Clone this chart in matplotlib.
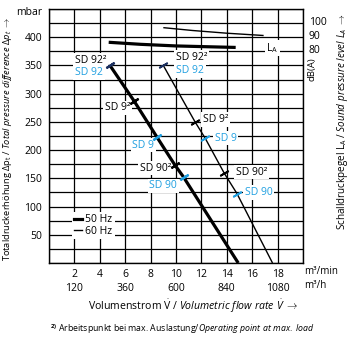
import matplotlib.pyplot as plt
from matplotlib.lines import Line2D

plt.rcParams['font.family'] = ['Open Sans', 'DejaVu Sans']
plt.rcParams['mathtext.fontset'] = 'custom'
plt.rcParams['mathtext.rm'] = 'Open Sans'
plt.rcParams['mathtext.it'] = 'Open Sans:italic'
plt.rcParams['mathtext.bf'] = 'Open Sans:bold'

# Achsen
x_ticks = [0, 2, 4, 6, 8, 10, 12, 14, 16, 18, 20]
x_labels_min = ['', '2', '4', '6', '8', '10', '12', '14', '16', '18', '']
x_labels_h = ['', '120', '', '360', '', '600', '', '840', '', '1080', '']
y_ticks = list(range(0, 451, 25))
y_label_vals = [50, 100, 150, 200, 250, 300, 350, 400]
db_ticks = [80, 90, 100]

# Kennlinien (m3/min, mbar)
curve50_x = [4.8, 6.7, 8.5, 9.9, 10.6, 14.9]
curve50_p = [350, 287, 223, 174, 152, 0]
curve60_x = [9.0, 11.5, 12.3, 13.8, 14.8, 17.6]
curve60_p = [350, 250, 221, 159, 123, 0]

# Schalldruckpegel (m3/min, dB(A))
la50_x = [4.7, 7.2, 10.0, 12.5, 14.7]
la50_db = [84.6, 83.1, 81.9, 81.3, 80.8]
la60_x = [9.0, 11.3, 14.0, 16.9]
la60_db = [95.4, 93.3, 91.3, 89.6]

# Arbeitspunkte
pts_names = ['SD 92²', 'SD 9²', 'SD 9', 'SD 90²', 'SD 90']
pts_colors = ['#1c3060', 'black', '#1f9fe0', 'black', '#1f9fe0']
pts50_x = [4.8, 6.7, 8.5, 9.9, 10.6]
pts50_p = [350, 287, 223, 174, 152]
pts60_x = [9.0, 11.5, 12.3, 13.8, 14.8]
pts60_p = [350, 250, 221, 159, 123]

# Beschriftungen (Position der linken Textkante)
lab_names = ['SD 92²', 'SD 92', 'SD 9²', 'SD 9', 'SD 90²', 'SD 90']
lab_colors = ['black', '#1f9fe0', 'black', '#1f9fe0', 'black', '#1f9fe0']
lab50_x = [2.05, 2.05, 4.4, 6.55, 7.15, 7.9]
lab50_p = [359, 337, 275, 209, 168, 137]
lab60_x = [10.0, 10.0, 12.1, 13.05, 14.7, 15.4]
lab60_p = [364, 341, 254, 221, 161, 125]

W, H = 350, 342
fig = plt.figure(figsize=(W / 100, H / 100), dpi=100)
ax = fig.add_axes([49 / W, 79 / H, 254 / W, 254 / H])

ax.set_xlim(0, 20)
ax.set_ylim(0, 450)
ax.set_xticks(x_ticks)
ax.set_xticklabels([a + '\n' + b for a, b in zip(x_labels_min, x_labels_h)],
                   linespacing=1.45)
ax.set_yticks(y_ticks)
ax.set_yticklabels([str(v) if v in y_label_vals else '' for v in y_ticks])
ax.tick_params(length=0, labelsize=7.5, pad=5)
ax.tick_params(axis='x', pad=4)
ax.grid(True, color='black', lw=0.9)
ax.set_axisbelow(True)
for s in ax.spines.values():
    s.set_linewidth(1.0)

# dB(A)-Achse rechts
ax2 = ax.twinx()
ax2.set_ylim(80 - 380 / 2.4, 80 + 70 / 2.4)
ax2.set_yticks(db_ticks)
ax2.tick_params(length=0, labelsize=7.5, pad=4)
for s in ax2.spines.values():
    s.set_visible(False)

ax.plot(curve50_x, curve50_p, color='black', lw=2.3, solid_capstyle='butt', zorder=3)
ax.plot(curve60_x, curve60_p, color='black', lw=1.0, solid_capstyle='butt', zorder=3)
ax2.plot(la50_x, la50_db, color='black', lw=2.3, solid_capstyle='butt')
ax2.plot(la60_x, la60_db, color='black', lw=1.0, solid_capstyle='butt')
ax2.text(17.6, 80.5, r'$\mathregular{L_A}$', fontsize=7.5, ha='center', va='center',
         bbox=dict(facecolor='white', edgecolor='none', pad=1))

for x, p, c in zip(pts50_x, pts50_p, pts_colors):
    ax.plot(x, p, marker=(2, 2, -57), ms=7, mew=1.6, color=c, zorder=4)
for x, p, c in zip(pts60_x, pts60_p, pts_colors):
    ax.plot(x, p, marker=(2, 2, -60), ms=7, mew=1.3, color=c, zorder=4)

for xs, ps in [(lab50_x, lab50_p), (lab60_x, lab60_p)]:
    for name, c, x, p in zip(lab_names, lab_colors, xs, ps):
        ax.text(x, p, name, color=c, fontsize=7.5, ha='left', va='center', zorder=2.5,
                bbox=dict(facecolor='white', edgecolor='none', pad=1.2))

leg = ax.legend(handles=[Line2D([], [], color='black', lw=2.3, label='50 Hz'),
                         Line2D([], [], color='black', lw=1.0, label='60 Hz')],
                loc='upper left', bbox_to_anchor=(0.09, 0.2), fontsize=7.5,
                handlelength=0.8, handletextpad=0.3, borderpad=0.2, labelspacing=0.05,
                borderaxespad=0, fancybox=False, framealpha=1, edgecolor='none')

ax.text(-0.028, 0.988, 'mbar', transform=ax.transAxes, fontsize=7.5, ha='right', va='center')
ax.text(1.005, -0.035, 'm³/min', transform=ax.transAxes, fontsize=7, ha='left', va='center')
ax.text(1.005, -0.09, 'm³/h', transform=ax.transAxes, fontsize=7, ha='left', va='center')
fig.text(312 / W, 1 - 69 / H, 'dB(A)', rotation=90, fontsize=6.8, ha='center', va='center')

fig.text(8 / W, 1 - 139 / H,
         r'Totaldruckerhöhung Δ$\mathregular{p_t}$ / $\mathit{Total\ pressure\ difference\ \Delta p_t}$ $\rightarrow$',
         rotation=90, fontsize=6.7, ha='center', va='center')
fig.text(342 / W, 1 - 122 / H,
         r'Schalldruckpegel $\mathregular{L_A}$ / $\mathit{Sound\ pressure\ level\ L_A}$ $\rightarrow$',
         rotation=90, fontsize=7.1, ha='center', va='center')
fig.text(193 / W, 1 - 306 / H,
         r'Volumenstrom $\mathregular{\dot{V}}$ / $\mathit{Volumetric\ flow\ rate\ \dot{V}}$ $\rightarrow$',
         fontsize=7.6, ha='center', va='center')
fig.text(50 / W, 1 - 329 / H,
         r'$\mathbf{^{2)}}$ Arbeitspunkt bei max. Auslastung/$\mathit{Operating\ point\ at\ max.\ load}$',
         fontsize=6.3, ha='left', va='center')

fig.savefig('out.png', dpi=100)
